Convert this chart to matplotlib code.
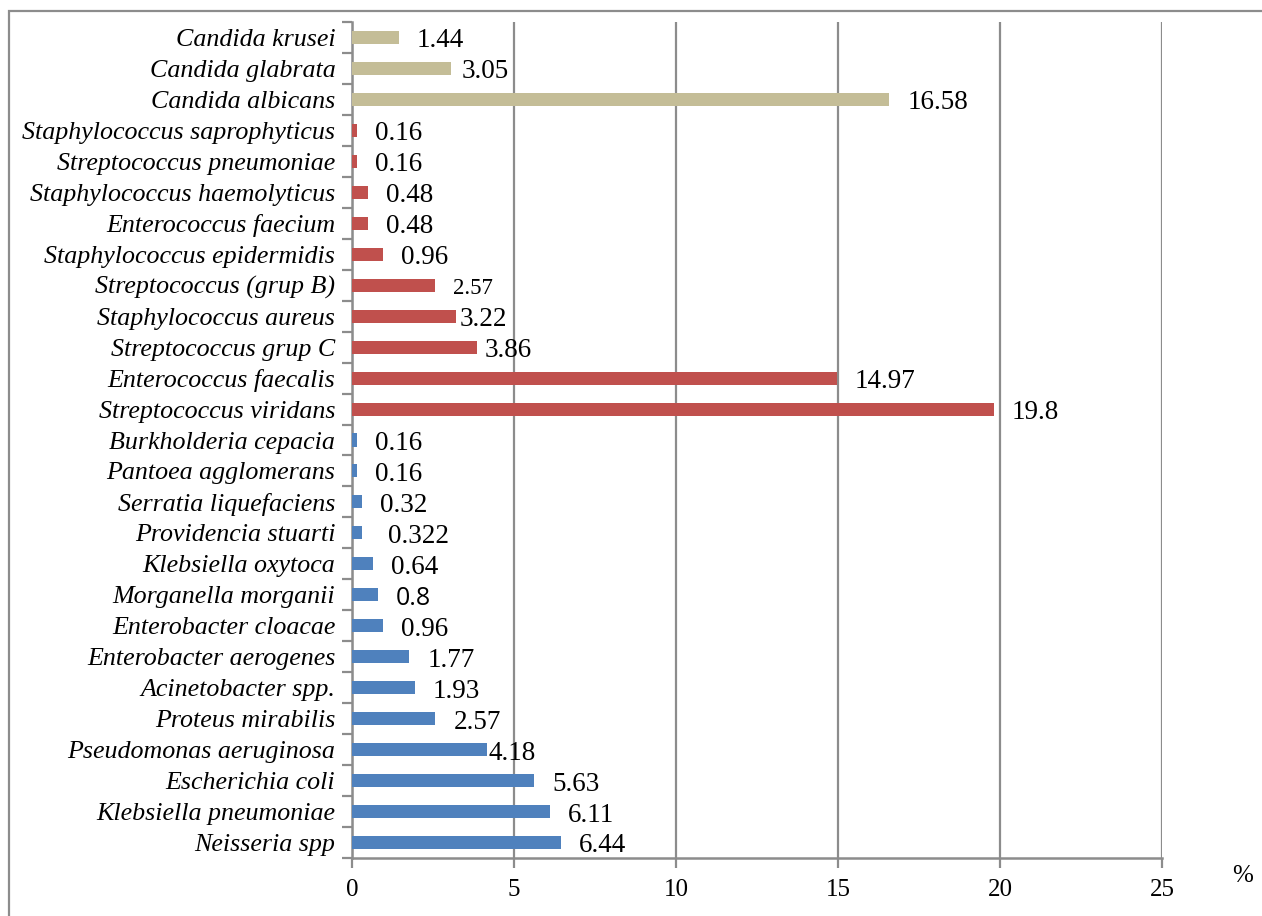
import matplotlib.pyplot as plt
from matplotlib.patches import Rectangle
import numpy as np

# isolates, listed bottom to top
gram_neg = ['Neisseria spp', 'Klebsiella pneumoniae', 'Escherichia coli',
            'Pseudomonas aeruginosa', 'Proteus mirabilis', 'Acinetobacter spp.',
            'Enterobacter aerogenes', 'Enterobacter cloacae', 'Morganella morganii',
            'Klebsiella oxytoca', 'Providencia stuarti', 'Serratia liquefaciens',
            'Pantoea agglomerans', 'Burkholderia cepacia']
gram_neg_pct = [6.44, 6.11, 5.63, 4.18, 2.57, 1.93, 1.77, 0.96, 0.8, 0.64,
                0.322, 0.32, 0.16, 0.16]

gram_pos = ['Streptococcus viridans', 'Enterococcus faecalis', 'Streptococcus grup C',
            'Staphylococcus aureus', 'Streptococcus (grup B)', 'Staphylococcus epidermidis',
            'Enterococcus faecium', 'Staphylococcus haemolyticus',
            'Streptococcus pneumoniae', 'Staphylococcus saprophyticus']
gram_pos_pct = [19.8, 14.97, 3.86, 3.22, 2.57, 0.96, 0.48, 0.48, 0.16, 0.16]

fungi = ['Candida albicans', 'Candida glabrata', 'Candida krusei']
fungi_pct = [16.58, 3.05, 1.44]

x_ticks = [0, 5, 10, 15, 20, 25]

plt.rcParams['font.family'] = ['Liberation Serif', 'DejaVu Serif']

names = gram_neg + gram_pos + fungi
values = gram_neg_pct + gram_pos_pct + fungi_pct
colors = (['#4F81BD'] * len(gram_neg) + ['#C0504D'] * len(gram_pos)
          + ['#C4BD97'] * len(fungi))
ypos = np.arange(len(names))

fig = plt.figure(figsize=(12.62, 9.16), dpi=100)
ax = fig.add_axes([352 / 1262, 1 - 858 / 916, 810 / 1262, 836 / 916])

# outer frame, open on the right and bottom
fig.patches.append(Rectangle((9 / 1262, -0.1), 1.2, 1 - 11 / 916 + 0.1,
                             transform=fig.transFigure, fill=False,
                             edgecolor='#8c8c8c', linewidth=1.6))

ax.barh(ypos, values, height=0.42, color=colors, zorder=3)

# hand-moved labels (pixel nudges relative to the default offset)
nudge = {3: -17, 10: 8, 16: -10, 17: -15, 25: -7}
small = {18}
sans = {8}
for i, v in enumerate(values):
    dx = (18 + nudge.get(i, 0)) * 0.72
    kw = dict(fontsize=19.5)
    if i in small:
        kw = dict(fontsize=16.5, family=['Liberation Serif'])
    if i in sans:
        kw = dict(fontsize=18, family=['Open Sans', 'DejaVu Sans'])
    ax.annotate(f'{v:g}', xy=(v, i), xytext=(dx, -2.5), textcoords='offset points',
                ha='left', va='center', zorder=4, **kw)

ax.set_xlim(0, 25)
ax.set_ylim(-0.5, len(names) - 0.5)
ax.set_xticks(x_ticks)
ax.set_xticklabels([str(t) for t in x_ticks], fontsize=18)
ax.set_yticks(ypos)
ax.set_yticklabels(names, fontsize=18.7, style='italic')
ax.set_yticks(np.arange(-0.5, len(names)), minor=True)

ax.tick_params(axis='y', which='major', length=0, pad=12)
ax.tick_params(axis='y', which='minor', length=7, width=1.6, color='#8c8c8c',
               direction='out')
ax.tick_params(axis='x', length=7, width=1.6, color='#8c8c8c', direction='out', pad=8)

ax.grid(axis='x', color='#8c8c8c', linewidth=1.6, zorder=0)
ax.set_axisbelow(True)
for side in ['top', 'right']:
    ax.spines[side].set_visible(False)
for side in ['left', 'bottom']:
    ax.spines[side].set_color('#8c8c8c')
    ax.spines[side].set_linewidth(1.8)

fig.text(1243 / 1262, 1 - 876 / 916, '%', fontsize=18, ha='center', va='center')

fig.savefig('out.png', dpi=100)
